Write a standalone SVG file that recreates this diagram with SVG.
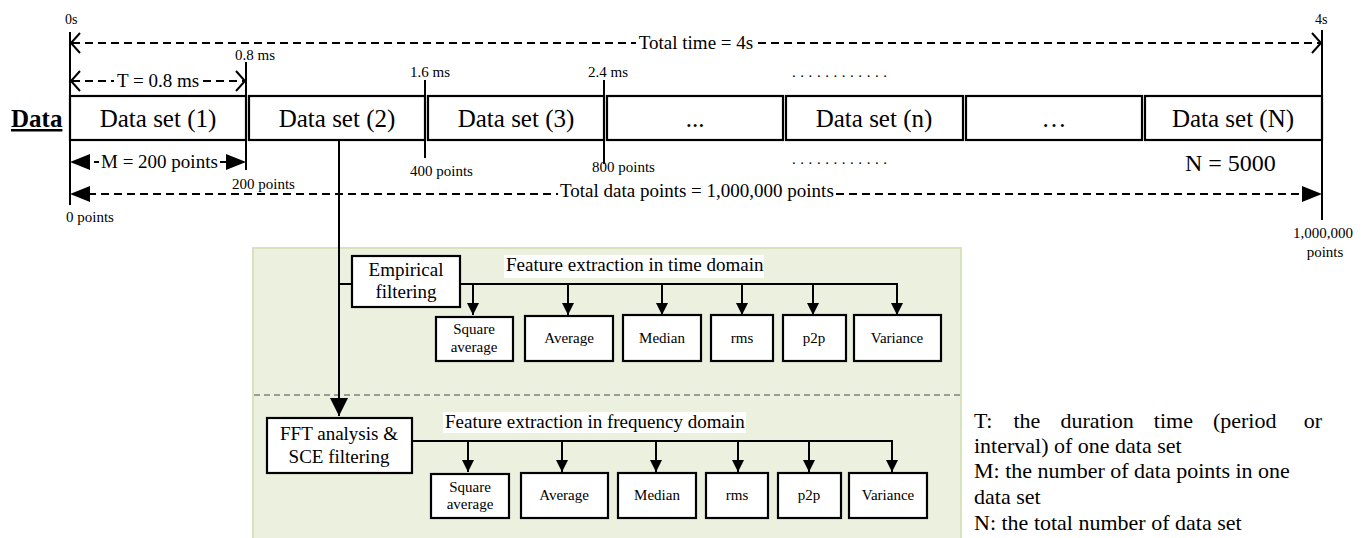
<svg xmlns="http://www.w3.org/2000/svg" width="1365" height="538" viewBox="0 0 1365 538">
<style>
text{font-family:"Liberation Serif","Times New Roman",serif;fill:#000}
.box{fill:#fff;stroke:#000;stroke-width:2.2}
.ds{font-size:25px;text-anchor:middle}
.sm{font-size:15px}
.md{font-size:19px}
.ln{stroke:#000;stroke-width:2;fill:none}
.dash{stroke:#000;stroke-width:2;fill:none;stroke-dasharray:8 5}
.feat{font-size:15px;text-anchor:middle}
.lbl{font-size:19px;text-anchor:middle}
.leg{font-size:22px}
</style>
<defs>
<marker id="ah" markerUnits="userSpaceOnUse" markerWidth="12" markerHeight="12" refX="12" refY="6" orient="auto">
<path d="M0,0 L12,6 L0,12 z" fill="#000"/>
</marker>
<marker id="ahBig" markerUnits="userSpaceOnUse" markerWidth="18" markerHeight="18" refX="18" refY="9" orient="auto">
<path d="M0,0 L18,9 L0,18 z" fill="#000"/>
</marker>
</defs>
<rect width="1365" height="538" fill="#fff"/>

<!-- green panel -->
<g id="panel">
<rect x="253" y="248" width="708" height="292" fill="#ebf1de" stroke="#d6e3bd" stroke-width="2"/>
<line x1="254" y1="395" x2="960" y2="395" stroke="#808080" stroke-width="1.5" stroke-dasharray="6 4"/>
</g>

<!-- data sets -->
<g id="ds1"><rect class="box" x="70" y="96" width="176" height="44"/><text class="ds" x="158" y="127">Data set (1)</text></g>
<g id="ds2"><rect class="box" x="249" y="96" width="176" height="44"/><text class="ds" x="337" y="127">Data set (2)</text></g>
<g id="ds3"><rect class="box" x="428" y="96" width="176" height="44"/><text class="ds" x="516" y="127">Data set (3)</text></g>
<g id="ds4"><rect class="box" x="607" y="96" width="176" height="44"/><text class="ds" x="695" y="127">...</text></g>
<g id="dsn"><rect class="box" x="786" y="96" width="177" height="44"/><text class="ds" x="874" y="127">Data set (n)</text></g>
<g id="ds6"><rect class="box" x="966" y="96" width="176" height="44"/><text class="ds" x="1054" y="127">…</text></g>
<g id="dsN"><rect class="box" x="1145" y="96" width="177" height="44"/><text class="ds" x="1233" y="127">Data set (N)</text></g>

<!-- Data label -->
<g id="data-label">
<text x="11" y="127" font-size="25" font-weight="bold" text-decoration="underline">Data</text>
</g>

<!-- timeline -->
<g id="timeline">
<line class="ln" x1="70" y1="32" x2="70" y2="205"/>
<line class="ln" x1="246" y1="62" x2="246" y2="170"/>
<line class="ln" x1="425" y1="80" x2="425" y2="158"/>
<line class="ln" x1="604" y1="80" x2="604" y2="164"/>
<line class="ln" x1="1322" y1="30" x2="1322" y2="220"/>
<text x="65" y="24" font-size="14">0s</text>
<text x="1315" y="24" font-size="14">4s</text>
<!-- total time -->
<line class="dash" x1="72" y1="43" x2="636" y2="43"/>
<line class="dash" x1="758" y1="43" x2="1320" y2="43"/>
<polyline class="ln" points="80,33 71,43 80,53"/>
<polyline class="ln" points="1312,33 1321,43 1312,53"/>
<text class="md" x="696" y="49" text-anchor="middle">Total time = 4s</text>
<!-- T -->
<line class="dash" x1="72" y1="81" x2="114" y2="81"/>
<line class="dash" x1="203" y1="81" x2="244" y2="81"/>
<polyline class="ln" points="80,71 71,81 80,91"/>
<polyline class="ln" points="236,71 245,81 236,91"/>
<text class="md" x="158" y="87" text-anchor="middle">T = 0.8 ms</text>
<text class="sm" x="235" y="60">0.8 ms</text>
<text class="sm" x="410" y="77">1.6 ms</text>
<text class="sm" x="588" y="77">2.4 ms</text>
<text class="sm" x="792" y="77" textLength="95" lengthAdjust="spacing">............</text>
<!-- M -->
<polygon points="70,162 90,154 90,170" fill="#000"/>
<polygon points="246,162 226,154 226,170" fill="#000"/>
<line class="ln" x1="94" y1="162" x2="99" y2="162"/>
<line class="ln" x1="220" y1="162" x2="228" y2="162"/>
<text class="md" x="101" y="168">M = 200 points</text>
<text class="sm" x="232" y="189">200 points</text>
<text class="sm" x="410" y="176">400 points</text>
<text class="sm" x="592" y="172">800 points</text>
<text class="sm" x="792" y="164" textLength="95" lengthAdjust="spacing">............</text>
<text x="1185" y="171" font-size="24">N = 5000</text>
<!-- total data points -->
<line class="dash" x1="88" y1="194" x2="558" y2="194"/>
<line class="dash" x1="836" y1="194" x2="1304" y2="194"/>
<polygon points="70,194 90,186 90,202" fill="#000"/>
<polygon points="1322,194 1302,186 1302,202" fill="#000"/>
<text class="md" x="560" y="197">Total data points = 1,000,000 points</text>
<text class="sm" x="66" y="222">0 points</text>
<text class="sm" x="1323" y="238" text-anchor="middle">1,000,000</text>
<text class="sm" x="1325" y="257" text-anchor="middle">points</text>
</g>

<!-- connectors -->
<g id="connectors">
<line class="ln" x1="339" y1="141" x2="339" y2="416" marker-end="url(#ahBig)"/>
<line class="ln" x1="339" y1="284" x2="352" y2="284"/>
<polyline class="ln" points="460,284 897,284 897,315" marker-end="url(#ah)"/>
<line class="ln" x1="473" y1="284" x2="473" y2="315" marker-end="url(#ah)"/>
<line class="ln" x1="568" y1="284" x2="568" y2="315" marker-end="url(#ah)"/>
<line class="ln" x1="662" y1="284" x2="662" y2="315" marker-end="url(#ah)"/>
<line class="ln" x1="742" y1="284" x2="742" y2="315" marker-end="url(#ah)"/>
<line class="ln" x1="813" y1="284" x2="813" y2="315" marker-end="url(#ah)"/>
<polyline class="ln" points="412,441 892,441 892,472" marker-end="url(#ah)"/>
<line class="ln" x1="468" y1="441" x2="468" y2="472" marker-end="url(#ah)"/>
<line class="ln" x1="562" y1="441" x2="562" y2="472" marker-end="url(#ah)"/>
<line class="ln" x1="656" y1="441" x2="656" y2="472" marker-end="url(#ah)"/>
<line class="ln" x1="738" y1="441" x2="738" y2="472" marker-end="url(#ah)"/>
<line class="ln" x1="809" y1="441" x2="809" y2="472" marker-end="url(#ah)"/>
</g>

<!-- section labels -->
<g id="time-label">
<rect x="504" y="255" width="260" height="23" fill="#fff"/>
<text class="md" x="506" y="271">Feature extraction in time domain</text>
</g>
<g id="freq-label">
<rect x="443" y="412" width="303" height="21" fill="#fff"/>
<text class="md" x="445" y="428">Feature extraction in frequency domain</text>
</g>

<!-- time domain nodes -->
<g id="empirical"><rect class="box" x="352" y="256" width="108" height="51"/><text class="lbl" x="406" y="276">Empirical</text><text class="lbl" x="406" y="298">filtering</text></g>
<g id="t-sqavg"><rect class="box" x="436" y="317" width="77" height="44"/><text class="feat" x="474" y="334">Square</text><text class="feat" x="474" y="352">average</text></g>
<g id="t-avg"><rect class="box" x="525" y="316" width="88" height="45"/><text class="feat" x="569" y="343">Average</text></g>
<g id="t-median"><rect class="box" x="623" y="315" width="78" height="46"/><text class="feat" x="662" y="343">Median</text></g>
<g id="t-rms"><rect class="box" x="711" y="315" width="62" height="46"/><text class="feat" x="742" y="343">rms</text></g>
<g id="t-p2p"><rect class="box" x="783" y="315" width="63" height="46"/><text class="feat" x="814" y="343">p2p</text></g>
<g id="t-var"><rect class="box" x="854" y="315" width="87" height="46"/><text class="feat" x="897" y="343">Variance</text></g>

<!-- frequency domain nodes -->
<g id="fft"><rect class="box" x="267" y="418" width="145" height="55"/><text class="lbl" x="339" y="440">FFT analysis &amp;</text><text class="lbl" x="339" y="463">SCE filtering</text></g>
<g id="f-sqavg"><rect class="box" x="431" y="474" width="78" height="44"/><text class="feat" x="470" y="492">Square</text><text class="feat" x="470" y="509">average</text></g>
<g id="f-avg"><rect class="box" x="521" y="473" width="87" height="45"/><text class="feat" x="564" y="500">Average</text></g>
<g id="f-median"><rect class="box" x="618" y="473" width="78" height="45"/><text class="feat" x="657" y="500">Median</text></g>
<g id="f-rms"><rect class="box" x="706" y="473" width="62" height="45"/><text class="feat" x="737" y="500">rms</text></g>
<g id="f-p2p"><rect class="box" x="778" y="473" width="63" height="45"/><text class="feat" x="809" y="500">p2p</text></g>
<g id="f-var"><rect class="box" x="849" y="473" width="78" height="45"/><text class="feat" x="888" y="500">Variance</text></g>

<!-- legend -->
<g id="legend">
<text class="leg" y="428"><tspan x="974">T:</tspan> <tspan x="1013.5">the</tspan> <tspan x="1060.5">duration</tspan> <tspan x="1153.8">time</tspan> <tspan x="1212.9">(period</tspan> <tspan x="1322" text-anchor="end">or</tspan></text>
<text class="leg" x="974" y="453">interval) of one data set</text>
<text class="leg" x="974" y="478">M: the number of data points in one</text>
<text class="leg" x="974" y="504">data set</text>
<text class="leg" x="974" y="530">N: the total number of data set</text>
</g>
</svg>
